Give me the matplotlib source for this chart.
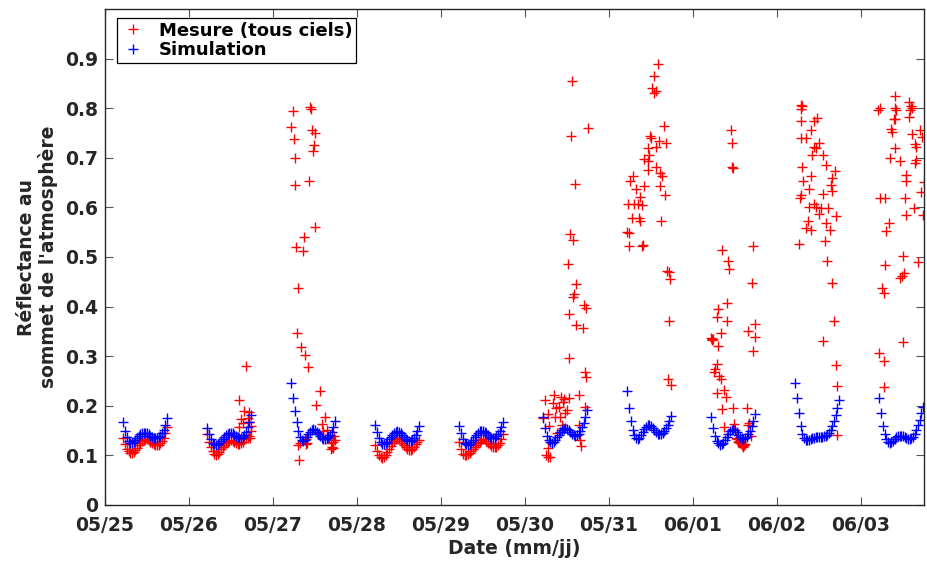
import numpy as np
import matplotlib
matplotlib.use("Agg")
import matplotlib.pyplot as plt

# ---------------- data ----------------
day_labels = ["05/25", "05/26", "05/27", "05/28", "05/29",
              "05/30", "05/31", "06/01", "06/02", "06/03"]
y_ticks = [0, 0.1, 0.2, 0.3, 0.4, 0.5, 0.6, 0.7, 0.8, 0.9]
y_tick_labels = ["0", "0.1", "0.2", "0.3", "0.4", "0.5", "0.6", "0.7", "0.8", "0.9"]

# sampling instants of the daylight acquisitions (fraction of day)
sample_frac = 0.22 + 0.02 * np.arange(27)

# Simulation (one value per sample instant, per day)
sim_0525 = [0.167, 0.150, 0.138, 0.130, 0.126, 0.125, 0.127, 0.131, 0.136, 0.140, 0.143, 0.145, 0.146, 0.146,
            0.145, 0.143, 0.140, 0.138, 0.136, 0.135, 0.135, 0.137, 0.140, 0.145, 0.152, 0.162, 0.176]
sim_0526 = [0.155, 0.143, 0.133, 0.126, 0.122, 0.121, 0.122, 0.125, 0.129, 0.133, 0.137, 0.141, 0.144, 0.146,
            0.146, 0.145, 0.142, 0.139, 0.137, 0.136, 0.136, 0.138, 0.142, 0.148, 0.157, 0.168, 0.182]
sim_0527 = [0.245, 0.215, 0.190, 0.168, 0.150, 0.138, 0.132, 0.130, 0.132, 0.137, 0.143, 0.148, 0.152, 0.153,
            0.152, 0.148, 0.143, 0.139, 0.136, 0.134, 0.134, 0.135, 0.138, 0.142, 0.148, 0.157, 0.170]
sim_0528 = [0.162, 0.147, 0.135, 0.127, 0.123, 0.122, 0.124, 0.128, 0.133, 0.138, 0.142, 0.146, 0.148, 0.149,
            0.148, 0.146, 0.142, 0.138, 0.134, 0.131, 0.130, 0.130, 0.132, 0.136, 0.141, 0.149, 0.160]
sim_0529 = [0.159, 0.145, 0.134, 0.126, 0.122, 0.121, 0.123, 0.127, 0.132, 0.137, 0.142, 0.146, 0.149, 0.150,
            0.150, 0.148, 0.145, 0.141, 0.138, 0.136, 0.135, 0.136, 0.139, 0.143, 0.149, 0.157, 0.167]
sim_0530 = [0.177, 0.155, 0.140, 0.132, 0.128, 0.126, 0.127, 0.131, 0.137, 0.142, 0.147, 0.151, 0.154, 0.155,
            0.154, 0.151, 0.147, 0.143, 0.141, 0.140, 0.141, 0.144, 0.149, 0.157, 0.166, 0.178, 0.192]
sim_0531 = [0.230, 0.195, 0.170, 0.152, 0.142, 0.136, 0.134, 0.136, 0.141, 0.147, 0.153, 0.158, 0.161, 0.162,
            0.160, 0.156, 0.151, 0.147, 0.144, 0.143, 0.143, 0.145, 0.149, 0.155, 0.162, 0.170, 0.180]
sim_0601 = [0.177, 0.155, 0.140, 0.130, 0.124, 0.121, 0.122, 0.126, 0.132, 0.138, 0.144, 0.149, 0.152, 0.153,
            0.151, 0.147, 0.142, 0.138, 0.135, 0.134, 0.135, 0.138, 0.143, 0.150, 0.159, 0.170, 0.184]
sim_0602 = [0.245, 0.215, 0.185, 0.160, 0.143, 0.135, 0.132, 0.131, 0.132, 0.133, 0.135, 0.136, 0.137, 0.138,
            0.138, 0.138, 0.138, 0.139, 0.140, 0.142, 0.146, 0.152, 0.160, 0.170, 0.182, 0.196, 0.211]
sim_0603 = [0.215, 0.185, 0.160, 0.143, 0.133, 0.128, 0.126, 0.127, 0.130, 0.134, 0.137, 0.139, 0.140, 0.140,
            0.139, 0.137, 0.135, 0.134, 0.134, 0.135, 0.138, 0.143, 0.151, 0.161, 0.172, 0.185, 0.198]

# Measurements, clear-sky days (one value per sample instant)
mes_0525 = [0.135, 0.122, 0.113, 0.108, 0.105, 0.104, 0.106, 0.110, 0.115, 0.120, 0.125, 0.129, 0.132, 0.133,
            0.133, 0.131, 0.128, 0.125, 0.122, 0.120, 0.120, 0.121, 0.124, 0.129, 0.136, 0.146, 0.158]
mes_0526 = [0.143, 0.128, 0.116, 0.108, 0.103, 0.101, 0.103, 0.107, 0.112, 0.117, 0.121, 0.125, 0.128, 0.130,
            0.131, 0.130, 0.127, 0.125, 0.123, 0.123, 0.125, 0.128, 0.133, 0.138, 0.135, 0.140, 0.150]
mes_0528 = [0.120, 0.108, 0.100, 0.096, 0.095, 0.097, 0.101, 0.106, 0.112, 0.118, 0.124, 0.129, 0.133, 0.135,
            0.134, 0.130, 0.125, 0.120, 0.116, 0.113, 0.111, 0.111, 0.113, 0.117, 0.122, 0.127, 0.131]
mes_0529 = [0.128, 0.112, 0.103, 0.100, 0.100, 0.102, 0.105, 0.108, 0.112, 0.116, 0.120, 0.124, 0.128, 0.131,
            0.133, 0.133, 0.130, 0.126, 0.122, 0.119, 0.117, 0.116, 0.117, 0.120, 0.125, 0.133, 0.143]

# Measurements, extra / cloudy-sky points (fraction of day, reflectance)
mes_0526_t = [0.60, 0.62, 0.60, 0.71, 0.72, 0.73, 0.68, 0.64, 0.66, 0.74, 0.70]
mes_0526_v = [0.212, 0.174, 0.158, 0.187, 0.168, 0.135, 0.281, 0.165, 0.190, 0.160, 0.175]

mes_0527_t = [0.234, 0.436, 0.45, 0.218, 0.464, 0.495, 0.245, 0.483, 0.472, 0.266, 0.257, 0.424, 0.504, 0.364,
              0.278, 0.357, 0.297, 0.286, 0.337, 0.377, 0.416, 0.563, 0.512, 0.623, 0.583, 0.643, 0.317, 0.393,
              0.305, 0.55, 0.70, 0.69, 0.71, 0.73, 0.74, 0.67, 0.39, 0.30, 0.40, 0.69, 0.72, 0.60]
mes_0527_v = [0.795, 0.802, 0.799, 0.763, 0.756, 0.750, 0.738, 0.726, 0.713, 0.700, 0.645, 0.653, 0.560, 0.540,
              0.521, 0.513, 0.437, 0.347, 0.318, 0.303, 0.279, 0.229, 0.202, 0.177, 0.163, 0.152, 0.124, 0.122,
              0.090, 0.145, 0.117, 0.124, 0.115, 0.140, 0.131, 0.135, 0.133, 0.120, 0.124, 0.113, 0.128, 0.150]

mes_0530_t = [0.56, 0.745, 0.55, 0.59, 0.54, 0.57, 0.507, 0.607, 0.58, 0.577, 0.70, 0.73, 0.52, 0.61, 0.69,
              0.527, 0.72, 0.725, 0.64, 0.24, 0.34, 0.43, 0.47, 0.40, 0.37, 0.27, 0.42, 0.50, 0.45, 0.72,
              0.64, 0.66, 0.665, 0.27, 0.25, 0.30, 0.27, 0.21, 0.44, 0.38, 0.45, 0.52, 0.36, 0.33, 0.28, 0.48]
mes_0530_v = [0.855, 0.760, 0.743, 0.647, 0.547, 0.534, 0.485, 0.445, 0.425, 0.420, 0.404, 0.398, 0.385, 0.363,
              0.357, 0.297, 0.268, 0.258, 0.222, 0.211, 0.221, 0.217, 0.214, 0.197, 0.195, 0.184, 0.177, 0.191,
              0.207, 0.197, 0.161, 0.131, 0.118, 0.114, 0.100, 0.096, 0.097, 0.175, 0.161, 0.145, 0.155, 0.215,
              0.177, 0.205, 0.160, 0.185]

mes_0531_t = [0.58, 0.54, 0.51, 0.56, 0.54, 0.65, 0.49, 0.50, 0.59, 0.68, 0.46, 0.56, 0.48, 0.42, 0.47, 0.56,
              0.47, 0.61, 0.63, 0.29, 0.25, 0.42, 0.61, 0.32, 0.67, 0.37, 0.23, 0.30, 0.35, 0.39, 0.27, 0.36,
              0.37, 0.62, 0.22, 0.24, 0.24, 0.39, 0.40, 0.69, 0.71, 0.73, 0.72, 0.70, 0.74]
mes_0531_v = [0.890, 0.865, 0.840, 0.835, 0.830, 0.765, 0.744, 0.740, 0.734, 0.730, 0.720, 0.721, 0.706, 0.698,
              0.694, 0.682, 0.676, 0.669, 0.663, 0.663, 0.654, 0.644, 0.644, 0.637, 0.626, 0.620, 0.606, 0.607,
              0.607, 0.605, 0.578, 0.578, 0.572, 0.572, 0.551, 0.549, 0.522, 0.523, 0.525, 0.472, 0.470, 0.455,
              0.370, 0.254, 0.241]

mes_0601_t = [0.45, 0.46, 0.47, 0.48, 0.35, 0.72, 0.42, 0.43, 0.70, 0.40, 0.30, 0.29, 0.41, 0.74, 0.66, 0.33,
              0.74, 0.226, 0.24, 0.21, 0.23, 0.30, 0.71, 0.28, 0.26, 0.25, 0.31, 0.33, 0.37, 0.28, 0.39, 0.35,
              0.48, 0.64, 0.37, 0.49, 0.65, 0.52, 0.55, 0.57, 0.61, 0.62, 0.59, 0.51, 0.67, 0.69, 0.53, 0.56,
              0.60, 0.58]
mes_0601_v = [0.756, 0.730, 0.681, 0.679, 0.514, 0.522, 0.492, 0.475, 0.448, 0.408, 0.395, 0.380, 0.371, 0.365,
              0.350, 0.347, 0.338, 0.335, 0.334, 0.336, 0.332, 0.321, 0.310, 0.285, 0.274, 0.268, 0.261, 0.254,
              0.231, 0.226, 0.217, 0.194, 0.196, 0.196, 0.157, 0.164, 0.161, 0.134, 0.130, 0.125, 0.120, 0.122,
              0.117, 0.135, 0.165, 0.140, 0.128, 0.126, 0.118, 0.121]

mes_0602_t = [0.29, 0.30, 0.28, 0.285, 0.48, 0.44, 0.405, 0.285, 0.34, 0.50, 0.44, 0.47, 0.42, 0.55, 0.30, 0.58,
              0.686, 0.41, 0.65, 0.31, 0.64, 0.38, 0.65, 0.55, 0.28, 0.27, 0.44, 0.38, 0.46, 0.52, 0.61, 0.50,
              0.70, 0.37, 0.58, 0.35, 0.40, 0.63, 0.26, 0.57, 0.59, 0.66, 0.68, 0.55, 0.70, 0.71, 0.72]
mes_0602_v = [0.807, 0.805, 0.799, 0.775, 0.780, 0.775, 0.756, 0.740, 0.739, 0.730, 0.721, 0.720, 0.705, 0.705,
              0.681, 0.685, 0.673, 0.664, 0.659, 0.653, 0.646, 0.638, 0.633, 0.627, 0.626, 0.618, 0.607, 0.600,
              0.601, 0.599, 0.598, 0.586, 0.582, 0.572, 0.569, 0.558, 0.554, 0.554, 0.527, 0.532, 0.492, 0.448,
              0.371, 0.331, 0.283, 0.240, 0.141]

mes_0603_t = [0.41, 0.20, 0.23, 0.40, 0.42, 0.566, 0.60, 0.61, 0.58, 0.575, 0.40, 0.39, 0.355, 0.37, 0.70, 0.73,
              0.61, 0.64, 0.65, 0.41, 0.35, 0.46, 0.66, 0.64, 0.54, 0.54, 0.75, 0.72, 0.23, 0.29, 0.52, 0.63,
              0.53, 0.74, 0.33, 0.30, 0.50, 0.68, 0.29, 0.51, 0.47, 0.49, 0.25, 0.27, 0.50, 0.22, 0.27, 0.27]
mes_0603_v = [0.825, 0.796, 0.801, 0.801, 0.796, 0.812, 0.804, 0.800, 0.797, 0.783, 0.778, 0.779, 0.758, 0.753,
              0.756, 0.741, 0.747, 0.727, 0.722, 0.720, 0.700, 0.694, 0.695, 0.690, 0.665, 0.653, 0.652, 0.631,
              0.619, 0.619, 0.619, 0.598, 0.584, 0.584, 0.569, 0.552, 0.502, 0.490, 0.484, 0.467, 0.458, 0.461,
              0.437, 0.428, 0.328, 0.306, 0.291, 0.238]

# ---------------- assemble ----------------
sim_series = [sim_0525, sim_0526, sim_0527, sim_0528, sim_0529,
              sim_0530, sim_0531, sim_0601, sim_0602, sim_0603]
sim_x = np.concatenate([d + sample_frac for d in range(len(sim_series))])
sim_y = np.concatenate([np.asarray(s) for s in sim_series])

mes_x_parts, mes_y_parts = [], []
for d, band in [(0, mes_0525), (1, mes_0526), (3, mes_0528), (4, mes_0529)]:
    mes_x_parts.append(d + sample_frac)
    mes_y_parts.append(np.asarray(band))
for d, t, v in [(1, mes_0526_t, mes_0526_v), (2, mes_0527_t, mes_0527_v),
                (5, mes_0530_t, mes_0530_v), (6, mes_0531_t, mes_0531_v),
                (7, mes_0601_t, mes_0601_v), (8, mes_0602_t, mes_0602_v),
                (9, mes_0603_t, mes_0603_v)]:
    mes_x_parts.append(d + np.asarray(t))
    mes_y_parts.append(np.asarray(v))
mes_x = np.concatenate(mes_x_parts)
mes_y = np.concatenate(mes_y_parts)

# ---------------- figure ----------------
plt.rcParams['font.family'] = ['DejaVu Sans']
plt.rcParams['font.weight'] = 'bold'

fig = plt.figure(figsize=(9.27, 5.65), dpi=100)
ax = fig.add_axes([105 / 927, 1 - 505 / 565, (924 - 105) / 927, (505 - 9) / 565])

ax.plot(mes_x, mes_y, linestyle='none', marker='+', color='#ff0000',
        markersize=6.5, markeredgewidth=1.0, label='Mesure (tous ciels)')
ax.plot(sim_x, sim_y, linestyle='none', marker='+', color='#0000ff',
        markersize=6.5, markeredgewidth=1.0, label='Simulation')

ax.set_xlim(0, 9.75)
ax.set_ylim(0, 1.0)
ax.set_xticks(range(len(day_labels)))
ax.set_xticklabels(day_labels)
ax.set_yticks(y_ticks)
ax.set_yticklabels(y_tick_labels)

txt_col = '#262626'
for s in ax.spines.values():
    s.set_color(txt_col)
    s.set_linewidth(1.0)
ax.tick_params(direction='in', length=6, width=0.8, color='#555555',
               top=True, right=True, labelsize=13.5, labelcolor=txt_col)
ax.tick_params(axis='x', pad=8)
ax.tick_params(axis='y', pad=5)
for lab in ax.get_xticklabels() + ax.get_yticklabels():
    lab.set_fontweight('bold')

ax.set_xlabel('Date (mm/jj)', fontsize=13.5, fontweight='bold', color=txt_col, labelpad=3)
ax.set_ylabel("Réflectance au\nsommet de l'atmosphère", fontsize=13.5, fontweight='bold',
              color=txt_col, labelpad=5, linespacing=1.15)

leg = ax.legend(loc='upper left', bbox_to_anchor=(0.015, 0.982), fancybox=False,
                framealpha=1, edgecolor='black', prop={'weight': 'bold', 'size': 13},
                borderpad=0.2, handletextpad=0.8, handlelength=1.3, labelspacing=0.1,
                borderaxespad=0, markerscale=1.0)
leg.get_frame().set_linewidth(0.9)

fig.savefig('out.png', dpi=100)
